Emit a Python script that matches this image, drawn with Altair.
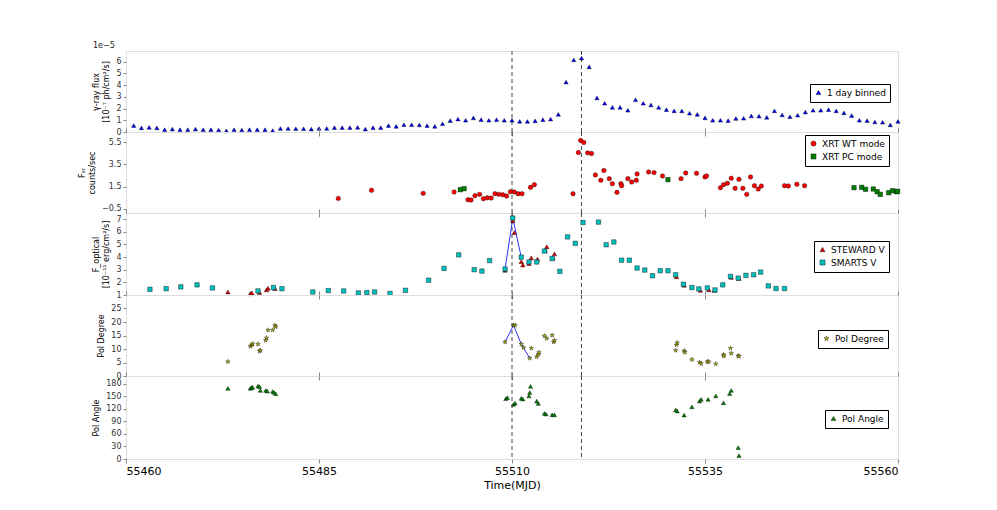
import altair as alt
import pandas as pd

X_DOMAIN = [55460, 55560]
X_TICKS = [55460, 55485, 55510, 55535, 55560]
FLARE_LINES = [55510, 55519]

# ---- Panel 1: gamma-ray flux (1 day binned), units of 1e-5
gamma_days = list(range(55461, 55561))
gamma_flux = [0.55, 0.35, 0.4, 0.35, 0.2, 0.25, 0.2, 0.2, 0.25, 0.2,
              0.2, 0.17, 0.1, 0.2, 0.17, 0.2, 0.2, 0.2, 0.12, 0.3,
              0.3, 0.28, 0.28, 0.25, 0.3, 0.3, 0.37, 0.37, 0.37, 0.4,
              0.25, 0.37, 0.37, 0.55, 0.48, 0.62, 0.62, 0.6, 0.55, 0.48,
              0.7, 0.97, 1.1, 1.0, 1.2, 1.05, 1.0, 1.05,
              1.0, 1.0, 0.9, 0.9, 0.95, 1.05, 1.1, 1.5, 4.25, 6.15,
              6.3, 5.55, 2.9, 2.45, 2.1, 2.1, 1.85, 2.75, 2.45, 2.3,
              2.1, 1.9, 1.8, 1.8, 1.6, 1.5, 1.2, 1.0, 1.0, 0.97,
              1.15, 1.17, 1.37, 1.35, 1.25, 1.8, 1.45, 1.3, 1.43, 1.7,
              1.85, 1.85, 1.9, 1.8, 1.63, 1.4, 1.0, 0.97, 0.85, 0.83,
              0.6, 0.9]

# ---- Panel 2: XRT count rate
wt_t = [55487.5, 55491.8, 55498.5, 55502.5, 55504.3, 55504.7, 55505.2, 55505.8, 55506.3, 55506.8,
        55507.3, 55507.8, 55508.3, 55508.8, 55509.3, 55509.8, 55510.3, 55510.8, 55511.3, 55512.4,
        55512.9, 55517.9, 55518.6, 55518.9, 55519.3, 55519.8, 55520.3, 55520.8, 55521.5, 55521.9,
        55522.6, 55523.0, 55523.6, 55524.1, 55524.2, 55525.0, 55525.5, 55526.1, 55526.2, 55527.7,
        55528.4, 55529.5, 55531.9, 55532.5, 55533.9, 55535.0, 55535.2, 55537.0, 55537.4, 55537.9,
        55538.4, 55538.9, 55539.4, 55539.9, 55540.4, 55540.9, 55541.4, 55541.9, 55542.3, 55545.3,
        55545.8, 55546.9, 55547.9]
wt_v = [0.45, 1.17, 0.9, 1.02, 0.33, 0.3, 0.69, 0.81, 0.42, 0.5,
        0.48, 0.87, 0.81, 0.78, 0.66, 1.05, 1.02, 0.87, 0.87, 1.44,
        1.68, 0.87, 4.56, 5.64, 5.46, 4.53, 4.47, 2.55, 2.07, 2.94,
        2.22, 1.77, 0.99, 1.77, 1.59, 2.22, 1.92, 2.07, 2.64, 2.82,
        2.76, 2.46, 2.22, 2.73, 2.7, 2.37, 2.46, 1.41, 1.68, 1.8,
        2.25, 1.35, 2.16, 1.35, 0.81, 2.37, 1.59, 1.29, 1.56, 1.59,
        1.56, 1.71, 1.59]
pc_t = [55503.3, 55503.8, 55530.2, 55554.3, 55555.3, 55555.8, 55556.8, 55557.3, 55557.7,
        55558.8, 55559.3, 55559.8, 55559.95]
pc_v = [1.23, 1.32, 2.13, 1.41, 1.44, 1.26, 1.29, 1.05, 0.81, 0.96, 1.14, 1.05, 1.08]

# ---- Panel 3: optical flux (1e-11 erg/cm2/s)
st_t = [55473.2, 55476.1, 55476.3, 55477.3, 55478.2, 55478.4, 55479.3, 55509.1, 55510.1, 55510.3,
        55511.2, 55511.4, 55512.2, 55512.5, 55513.3, 55514.3, 55514.5, 55515.3, 55515.5, 55531.3,
        55532.3, 55534.4, 55535.5, 55536.2, 55538.4, 55539.4]
st_v = [1.24, 1.1, 1.16, 1.19, 1.4, 1.53, 1.5, 2.95, 6.87, 5.93,
        3.64, 3.37, 3.48, 3.93, 3.83, 4.52, 4.81, 3.93, 4.25, 2.44,
        1.77, 1.37, 1.4, 1.37, 2.39, 2.31]
sm_t = [55463.1, 55465.2, 55467.1, 55469.2, 55471.2, 55477.1, 55479.1, 55480.2, 55484.2, 55486.2,
        55488.2, 55490.1, 55491.2, 55492.2, 55494.2, 55496.2, 55499.2, 55501.2, 55503.1, 55505.1,
        55506.1, 55507.1, 55509.1, 55510.1, 55511.2, 55512.2, 55513.2, 55514.2, 55515.2, 55516.2,
        55517.2, 55518.2, 55519.2, 55521.2, 55522.2, 55523.2, 55524.2, 55525.2, 55526.2, 55527.2,
        55528.2, 55529.2, 55530.2, 55531.2, 55532.2, 55533.3, 55534.2, 55535.3, 55536.3, 55537.3,
        55538.3, 55539.3, 55540.3, 55541.3, 55542.2, 55543.2, 55544.2, 55545.3]
sm_v = [1.45, 1.5, 1.64, 1.8, 1.56, 1.32, 1.59, 1.5, 1.24, 1.35,
        1.32, 1.16, 1.19, 1.24, 1.13, 1.37, 2.17, 3.1, 4.17, 3.0,
        2.89, 3.72, 3.05, 7.08, 3.99, 3.61, 3.61, 4.47, 3.88, 2.87,
        5.59, 5.08, 6.73, 6.76, 4.97, 5.19, 3.75, 3.75, 3.13, 2.97,
        2.52, 2.92, 2.92, 2.6, 1.85, 1.59, 1.48, 1.56, 1.4, 1.8,
        2.47, 2.33, 2.55, 2.6, 2.81, 1.72, 1.51, 1.51]
opt_line_t = [55509.1, 55510.1, 55511.2]
opt_line_v = [3.05, 7.08, 3.99]

# ---- Panel 4: polarization degree (%)
pd_t = [55473.2, 55476.1, 55476.3, 55476.4, 55477.1, 55477.3, 55477.4, 55478.1, 55478.2, 55478.4,
        55479.0, 55479.3, 55479.4, 55509.1, 55510.2, 55510.4, 55511.2, 55511.5, 55512.3, 55512.5,
        55513.2, 55513.4, 55513.5, 55514.2, 55514.5, 55515.2, 55515.4, 55515.5, 55531.2, 55531.3,
        55531.4, 55532.3, 55532.4, 55533.3, 55534.3, 55534.5, 55535.3, 55535.5, 55536.4, 55537.4,
        55537.45, 55538.3, 55538.4, 55539.3, 55539.4]
pd_v = [5.3, 11.0, 11.5, 11.9, 11.8, 9.2, 9.5, 13.2, 14.1, 17.0,
        17.0, 18.7, 18.2, 12.6, 18.8, 18.8, 11.8, 10.5, 6.6, 10.3,
        7.1, 8.0, 8.7, 14.9, 13.9, 15.1, 12.6, 13.2, 9.5, 11.5,
        12.3, 9.3, 8.8, 6.1, 5.1, 4.6, 5.3, 5.3, 4.5, 7.9,
        7.4, 10.3, 8.4, 7.5, 7.3]
pd_line_t = [55509.1, 55510.2, 55511.2, 55512.3]
pd_line_v = [12.6, 18.8, 11.8, 6.6]

# ---- Panel 5: polarization angle (deg)
pa_t = [55473.2, 55476.1, 55476.3, 55476.4, 55477.1, 55477.3, 55477.4, 55478.1, 55478.3, 55479.0,
        55479.2, 55479.4, 55509.2, 55509.4, 55510.2, 55510.4, 55511.2, 55511.4, 55512.2, 55512.3,
        55512.4, 55513.2, 55513.4, 55514.2, 55514.4, 55515.2, 55515.5, 55531.2, 55531.4, 55532.3,
        55533.3, 55534.3, 55534.5, 55535.4, 55536.4, 55537.4, 55538.2, 55538.4, 55539.3, 55539.4]
pa_v = [168.4, 168.4, 170.8, 170.8, 174.1, 172.5, 163.5, 163.5, 161.8, 161.0,
        158.6, 155.3, 143.9, 146.3, 130.0, 133.2, 144.7, 143.0, 150.4, 158.6,
        173.3, 138.1, 132.4, 108.7, 107.1, 105.4, 105.4, 116.9, 114.4, 104.6,
        124.2, 138.1, 142.2, 142.2, 150.4, 134.0, 156.1, 163.5, 27.0, 8.2]

STAR = ("M0,-1L0.2245,-0.309L0.951,-0.309L0.363,0.118L0.588,0.809L0,0.382"
        "L-0.588,0.809L-0.363,0.118L-0.951,-0.309L-0.2245,-0.309Z")

W = 772
FONT = "DejaVu Sans"
XSCALE = alt.Scale(domain=X_DOMAIN, nice=False, zero=False)


def x_bottom(bottom=False):
    if bottom:
        ax = alt.Axis(values=X_TICKS, format="d", labelFontSize=11, labelColor="black",
                      title="Time(MJD)", titleFontSize=11, titleFontWeight="normal",
                      tickSize=4, domain=False, grid=False, labelPadding=2, titlePadding=3,
                      titleColor="black", orient="bottom")
    else:
        ax = alt.Axis(values=X_TICKS, labels=False, title=None, tickSize=4,
                      domain=False, grid=False, orient="bottom")
    return alt.X("t:Q", scale=XSCALE, axis=ax)


def x_top(show):
    if show:
        ax = alt.Axis(values=X_TICKS, labels=False, title=None, tickSize=4,
                      domain=False, grid=False, orient="top")
    else:
        ax = None
    return alt.X("t:Q", scale=XSCALE, axis=ax)


def y_enc(title, domain, ticks, fmt):
    return alt.Y("v:Q", scale=alt.Scale(domain=domain, nice=False, zero=False),
                 axis=alt.Axis(values=ticks, format=fmt, title=title, titleFontSize=8,
                               titleFontWeight="normal", labelFontSize=8,
                               labelColor="#333", tickSize=3, domain=False,
                               grid=False, labelPadding=2, titlePadding=5,
                               titleColor="black"))


def panel(series, ytitle, ydomain, yticks, height, lx, ly, fmt="d", lines=None,
          bottom=False, top=True):
    # series: list of (name, times, values, color, shape, size)
    rows = []
    for name, ts, vs, *_ in series:
        rows += [{"t": a, "v": b, "s": name} for a, b in zip(ts, vs)]
    df = pd.DataFrame(rows)
    names = [s[0] for s in series]
    colors = [s[3] for s in series]
    shapes = [s[4] for s in series]
    size = series[0][5]
    legend = alt.Legend(orient="none", legendX=lx, legendY=ly, title=None,
                        strokeColor="black", fillColor="white", padding=4,
                        labelFontSize=9, labelFont=FONT, symbolSize=size + 6,
                        symbolStrokeColor="black", symbolStrokeWidth=0.4,
                        rowPadding=3, labelColor="black", cornerRadius=0)
    pts = alt.Chart(df).mark_point(filled=True, stroke="black", strokeWidth=0.4,
                                   opacity=1, size=size).encode(
        x=x_bottom(bottom),
        y=y_enc(ytitle, ydomain, yticks, fmt),
        color=alt.Color("s:N", scale=alt.Scale(domain=names, range=colors), legend=legend),
        shape=alt.Shape("s:N", scale=alt.Scale(domain=names, range=shapes), legend=legend),
    )
    rules = alt.Chart(pd.DataFrame({"t": FLARE_LINES})).mark_rule(
        color="#333", strokeDash=[4, 3], strokeWidth=0.9).encode(x=x_top(top))
    layers = [rules]
    if lines is not None:
        lt, lv = lines
        layers.append(alt.Chart(pd.DataFrame({"t": lt, "v": lv})).mark_line(
            color="#3333ff", strokeWidth=1).encode(
                x=alt.X("t:Q", scale=XSCALE, axis=None),
                y=y_enc(ytitle, ydomain, yticks, fmt)))
    layers.append(pts)
    return alt.layer(*layers).resolve_axis(x="independent").properties(
        width=W, height=height)


p1 = panel([("1 day binned", gamma_days, gamma_flux, "#0000ff", "triangle-up", 18)],
           ["γ-ray flux", "[10⁻⁷ ph/cm²/s]"], [0, 6.9], [0, 1, 2, 3, 4, 5, 6], 81,
           684, 33, top=False).properties(
    title=alt.TitleParams("1e−5", anchor="start", fontSize=8, fontWeight="normal",
                          font=FONT, offset=1, color="#222"))
p2 = panel([("XRT WT mode", wt_t, wt_v, "#ff0000", "circle", 20),
            ("XRT PC mode", pc_t, pc_v, "#008000", "square", 20)],
           ["Fₓᵣ", "counts/sec"], [-0.86, 6.4], [-0.5, 1.5, 3.5, 5.5], 81, 679, 3,
           fmt=".1f")
p3 = panel([("STEWARD V", st_t, st_v, "#dd0000", "triangle-up", 20),
            ("SMARTS V", sm_t, sm_v, "#00bfbf", "square", 20)],
           ["F_optical", "[10⁻¹¹ erg/cm²/s]"], [1, 7.48], [1, 2, 3, 4, 5, 6, 7], 82,
           688, 28, lines=(opt_line_t, opt_line_v))
p4 = panel([("Pol Degree", pd_t, pd_v, "#bfbf00", STAR, 22)],
           "Pol Degree", [0, 30], [0, 5, 10, 15, 20, 25], 81, 692, 35,
           lines=(pd_line_t, pd_line_v))
p5 = panel([("Pol Angle", pa_t, pa_v, "#008000", "triangle-up", 18)],
           "Pol Angle", [0, 198], [0, 30, 60, 90, 120, 150, 180], 83, 699, 34, bottom=True)

chart = alt.vconcat(p1, p2, p3, p4, p5, spacing=0, bounds="flush").resolve_scale(
    color="independent", shape="independent", x="independent", y="independent"
).resolve_legend(color="independent", shape="independent").properties(
    padding={"left": 70, "top": 33, "right": 10, "bottom": 10}
).configure_view(stroke="black", strokeWidth=1).configure_axis(
    labelFont=FONT, titleFont=FONT, tickColor="black"
).configure(font=FONT, background="white")

chart.save("out.html", embed_options={"renderer": "svg", "actions": False})
